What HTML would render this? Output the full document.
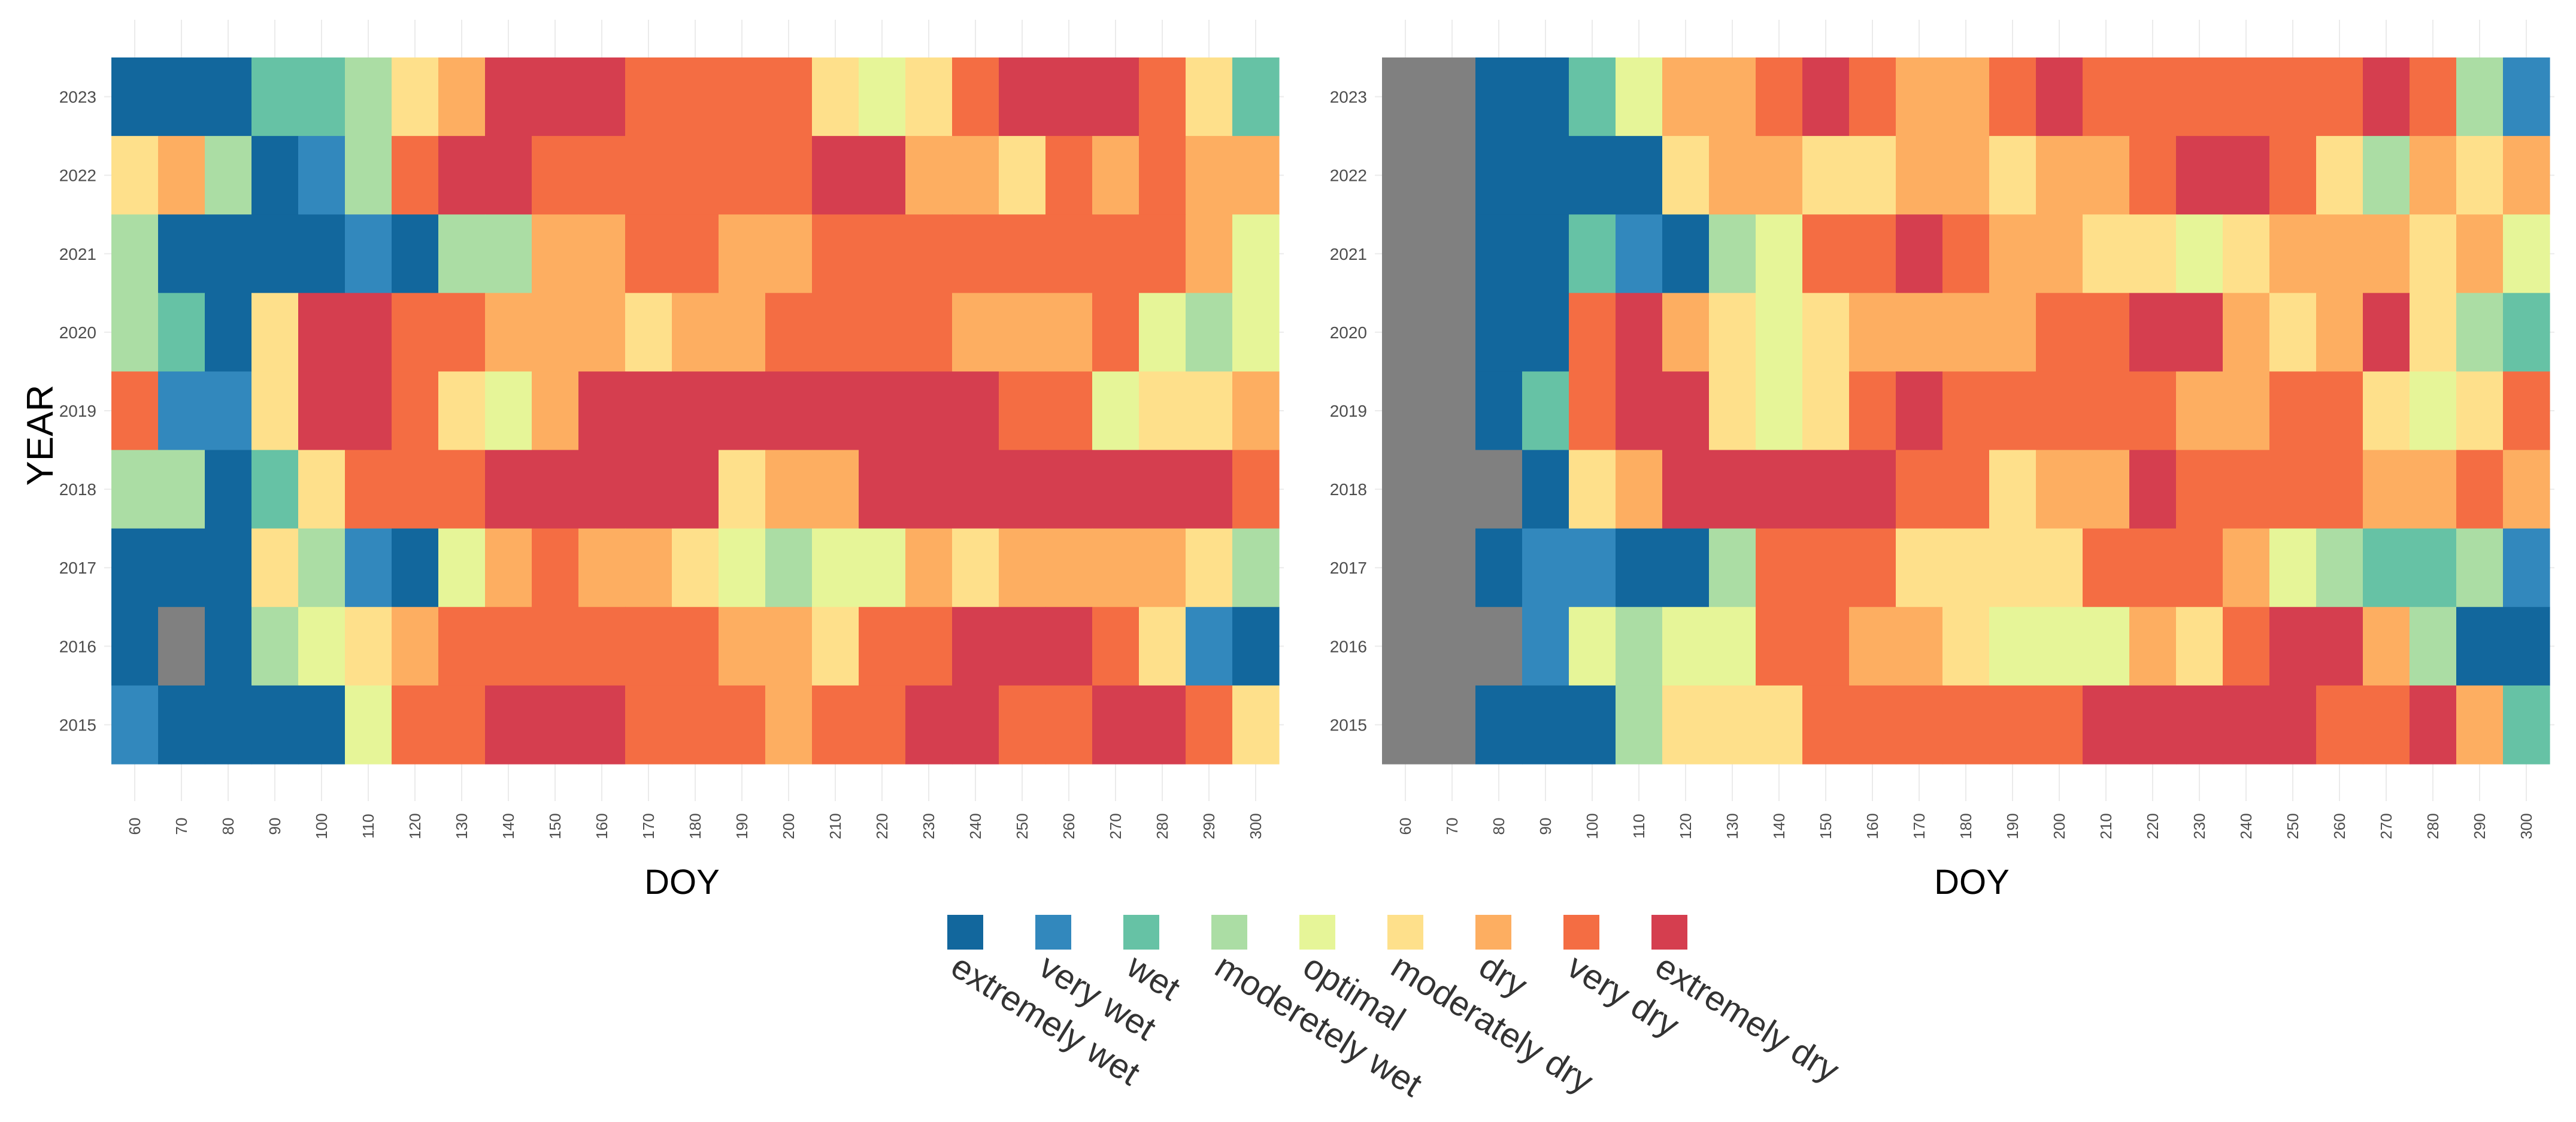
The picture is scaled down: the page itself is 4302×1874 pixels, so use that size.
<!DOCTYPE html>
<html><head><meta charset="utf-8"><style>
html,body{margin:0;padding:0;background:#fff;}
svg{display:block;font-family:"Liberation Sans",sans-serif;}
</style></head><body>
<svg id="chart" width="4302" height="1874" viewBox="0 0 4302 1874" xmlns="http://www.w3.org/2000/svg">
<rect width="4302" height="1874" fill="#fff"/>
<g id="panels"></g>
<text x="0" y="0" transform="translate(88,727) rotate(-90)" text-anchor="middle" font-size="62" fill="#000">YEAR</text>
<g id="legend"></g>
</svg>
<script>
const doy = [60,70,80,90,100,110,120,130,140,150,160,170,180,190,200,210,220,230,240,250,260,270,280,290,300];
const years = [2023,2022,2021,2020,2019,2018,2017,2016,2015];
const classLabels = ["extremely wet","very wet","wet","moderetely wet","optimal","moderately dry","dry","very dry","extremely dry"];
const classColors = ["#12679d","#3288bd","#66c2a5","#abdda4","#e6f598","#fee08b","#fdae61","#f46d43","#d53e4f"];
const naColor = "#808080";
// left panel, rows = years (2023..2015), -1 = NA
const leftValues = [
[0,0,0,2,2,3,5,6,8,8,8,7,7,7,7,5,4,5,7,8,8,8,7,5,2],
[5,6,3,0,1,3,7,8,8,7,7,7,7,7,7,8,8,6,6,5,7,6,7,6,6],
[3,0,0,0,0,1,0,3,3,6,6,7,7,6,6,7,7,7,7,7,7,7,7,6,4],
[3,2,0,5,8,8,7,7,6,6,6,5,6,6,7,7,7,7,6,6,6,7,4,3,4],
[7,1,1,5,8,8,7,5,4,6,8,8,8,8,8,8,8,8,8,7,7,4,5,5,6],
[3,3,0,2,5,7,7,7,8,8,8,8,8,5,6,6,8,8,8,8,8,8,8,8,7],
[0,0,0,5,3,1,0,4,6,7,6,6,5,4,3,4,4,6,5,6,6,6,6,5,3],
[0,-1,0,3,4,5,6,7,7,7,7,7,7,6,6,5,7,7,8,8,8,7,5,1,0],
[1,0,0,0,0,4,7,7,8,8,8,7,7,7,6,7,7,8,8,7,7,8,8,7,5]
];
const rightValues = [
[-1,-1,0,0,2,4,6,6,7,8,7,6,6,7,8,7,7,7,7,7,7,8,7,3,1],
[-1,-1,0,0,0,0,5,6,6,5,5,6,6,5,6,6,7,8,8,7,5,3,6,5,6],
[-1,-1,0,0,2,1,0,3,4,7,7,8,7,6,6,5,5,4,5,6,6,6,5,6,4],
[-1,-1,0,0,7,8,6,5,4,5,6,6,6,6,7,7,8,8,6,5,6,8,5,3,2],
[-1,-1,0,2,7,8,8,5,4,5,7,8,7,7,7,7,7,6,6,7,7,5,4,5,7],
[-1,-1,-1,0,5,6,8,8,8,8,8,7,7,5,6,6,8,7,7,7,7,6,6,7,6],
[-1,-1,0,1,1,0,0,3,7,7,7,5,5,5,5,7,7,7,6,4,3,2,2,3,1],
[-1,-1,-1,1,4,3,4,4,7,7,6,6,5,4,4,4,6,5,7,8,8,6,3,0,0],
[-1,-1,0,0,0,3,5,5,5,7,7,7,7,7,7,8,8,8,8,8,7,7,8,6,2]
];

const NS = "http://www.w3.org/2000/svg";
function mk(tag, attrs, parent){const e=document.createElementNS(NS,tag);for(const k in attrs)e.setAttribute(k,attrs[k]);parent.appendChild(e);return e;}

const plotTop = 96, plotH = 1180, plotW = 1950;
const panels = [
  {name:"left", x0:186, values:leftValues, titleX:1139},
  {name:"right", x0:2308, values:rightValues, titleX:3293}
];
const root = document.getElementById("panels");
const colW = plotW/doy.length, rowH = plotH/years.length;
function xScale(p, i){return p.x0 + i*colW;}
function yScale(j){return plotTop + j*rowH;}

panels.forEach(p=>{
  const g = mk("g",{},root);
  
  
  doy.forEach((d,i)=>{
    const cx = xScale(p,i)+colW/2;
    const l = mk("line",{x1:cx,x2:cx,y1:33,y2:1338,stroke:"#ebebeb","stroke-width":2},g);
    
    
  });
  years.forEach((y,j)=>{
    const cy = yScale(j)+rowH/2;
    const l = mk("line",{x1:p.x0-12,x2:p.x0+plotW+8,y1:cy,y2:cy,stroke:"#ebebeb","stroke-width":2},g);
    
    
  });
  p.values.forEach((row,j)=>{
    row.forEach((v,i)=>{
      const r = mk("rect",{x:xScale(p,i),y:yScale(j),width:colW+0.6,height:rowH+0.6,fill:v<0?naColor:classColors[v]},g);
      
      
    });
  });
  years.forEach((y,j)=>{
    const t = mk("text",{x:p.x0-25,y:yScale(j)+rowH/2+10,"text-anchor":"end","font-size":28,fill:"#4d4d4d"},g);
    t.textContent = y;
    
    
  });
  doy.forEach((d,i)=>{
    const cx = xScale(p,i)+colW/2;
    const t = mk("text",{transform:`translate(${cx+9},1380) rotate(-90)`,"text-anchor":"middle","font-size":26,fill:"#4d4d4d"},g);
    t.textContent = d;
    
    
  });
  const tt = mk("text",{x:p.titleX,y:1493,"text-anchor":"middle","font-size":58,fill:"#000"},g);
  tt.textContent = "DOY";
  
  
});

const lg = document.getElementById("legend");
classLabels.forEach((lab,k)=>{
  const x = 1582 + k*147;
  const r = mk("rect",{x:x,y:1528,width:60,height:58,fill:classColors[k]},lg);
  
  
  const t = mk("text",{transform:`translate(${x+2},1625) rotate(32)`,"font-size":58,fill:"#333"},lg);
  t.textContent = lab;
  
  
});
</script>
</body></html>
